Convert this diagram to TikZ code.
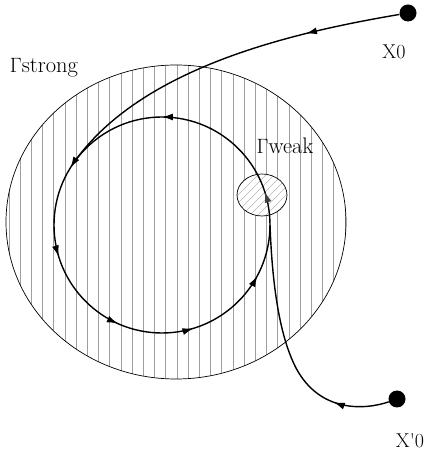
\documentclass[tikz,border=0pt]{standalone}
\usetikzlibrary{arrows.meta,decorations.markings,calc}
\tikzset{
  flowtip/.tip={Latex[length=11pt,width=7pt]},
  dot/.style={circle, fill=black, minimum size=17pt, inner sep=0pt},
  lbl/.style={font=\fontsize{20}{24}\selectfont, inner sep=0pt},
  glbl/.style={font=\fontsize{22.5}{26}\selectfont, inner sep=0pt},
  region/.style={draw=black, line width=0.7pt},
  vhatch/.style={gray!75, line width=0.5pt},
  dhatch/.style={gray!55, line width=0.4pt},
  traj/.style={line width=1.4pt},
  orbitflow/.style={traj, postaction={decorate}, decoration={markings,
      mark=at position 0.05 with {\arrow[gray!50!black]{flowtip}},
      mark=at position 0.25 with {\arrow{flowtip}},
      mark=at position 0.411 with {\arrow{flowtip}},
      mark=at position 0.547 with {\arrow{flowtip}},
      mark=at position 0.683 with {\arrow{flowtip}},
      mark=at position 0.797 with {\arrow{flowtip}},
      mark=at position 0.922 with {\arrow{flowtip}}}},
  inflow/.style={traj, postaction={decorate}, decoration={markings,
      mark=at position #1 with {\arrow{flowtip}}}},
}

\begin{document}
\begin{tikzpicture}[x=1pt, y=1pt]
    \useasboundingbox (0,0) rectangle (425,458);
    \coordinate (c) at (162,233);
    % strong region
    \begin{scope}
      \clip (176,236) ellipse [x radius=170, y radius=157];
      \foreach \i in {0,...,31}
        \draw[vhatch] ({165.7+11.2*(\i-14)},70) -- ++(0,340);
    \end{scope}
    \draw[region] (176,236) ellipse [x radius=170, y radius=157];
    % weak region
    \fill[white] (262,263) ellipse [x radius=25, y radius=21];
    \begin{scope}
      \clip (262,263) ellipse [x radius=25, y radius=21];
      \foreach \i in {-7,...,7}
        \draw[dhatch] ({262+8*\i-30},233) -- ++(60,60);
    \end{scope}
    \draw[region] (262,263) ellipse [x radius=25, y radius=21];
    % orbit and trajectories
    \draw[orbitflow] (c) circle [radius=108];
    \coordinate (join1) at ($(c)+(145:108)$);
    \coordinate (join2) at ($(c)+(0:108)$);
    \node[dot] (x0) at (408,445) {};
    \node[dot] (x0p) at (397,59) {};
    \draw[inflow=0.26] (x0) .. controls (290,425) and (140,390) .. (join1);
    \draw[inflow=0.22] (x0p) .. controls (365,48) and (320,45) .. (296,90)
      .. controls (278,125) and (272,180) .. (join2);
    % labels
    \node[glbl] (gs) at (44,390) {$\Gamma$strong};
    \node[glbl] (gw) at (285,312) {$\Gamma$weak};
    \node[lbl] (lx0) at (394,406) {X0};
    \node[lbl] (lx0p) at (410,17) {X\textquotesingle 0};
\end{tikzpicture}
\end{document}
